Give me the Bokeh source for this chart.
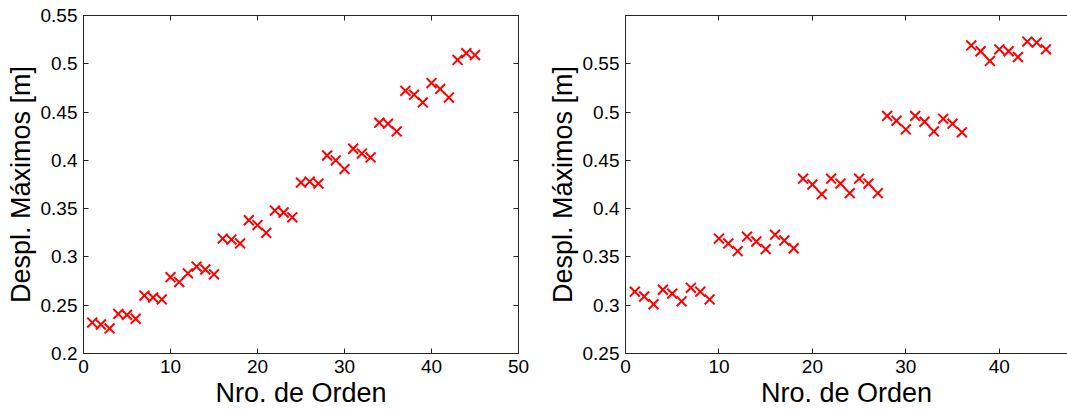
from bokeh.plotting import figure
from bokeh.layouts import row
from bokeh.models import LinearAxis, FixedTicker, NumeralTickFormatter, Range1d, CustomJSTickFormatter
from bokeh.embed import file_html
from bokeh.resources import INLINE

# ---- data ----
orden = list(range(1, 46))
despl_izq = [0.232, 0.230, 0.226, 0.241, 0.240, 0.236, 0.260, 0.258, 0.256,
             0.279, 0.274, 0.283, 0.290, 0.287, 0.282, 0.319, 0.318, 0.314,
             0.338, 0.333, 0.325, 0.348, 0.346, 0.341, 0.377, 0.378, 0.376,
             0.405, 0.400, 0.391, 0.412, 0.407, 0.403, 0.439, 0.438, 0.430,
             0.472, 0.468, 0.460, 0.480, 0.474, 0.465, 0.504, 0.511, 0.509]
despl_der = [0.314, 0.309, 0.301, 0.316, 0.312, 0.304, 0.318, 0.314, 0.306,
             0.369, 0.364, 0.356, 0.371, 0.366, 0.358, 0.373, 0.367, 0.359,
             0.431, 0.425, 0.415, 0.431, 0.426, 0.416, 0.431, 0.426, 0.416,
             0.496, 0.491, 0.482, 0.496, 0.490, 0.480, 0.493, 0.488, 0.479,
             0.569, 0.563, 0.553, 0.565, 0.563, 0.557, 0.573, 0.572, 0.565]
x_ticks_izq = [0, 10, 20, 30, 40, 50]
x_ticks_der = [0, 10, 20, 30, 40]
y_ticks_izq = [0.2, 0.25, 0.3, 0.35, 0.4, 0.45, 0.5, 0.55]
y_ticks_der = [0.25, 0.3, 0.35, 0.4, 0.45, 0.5, 0.55]
x_label = "Nro. de Orden"
y_label = "Despl. Máximos [m]"

FONT = "Liberation Sans"
AX = "#262626"


def style(ax, ticks, show_labels=True):
    ax.ticker = FixedTicker(ticks=ticks)
    ax.major_tick_in = 5
    ax.major_tick_out = 0
    ax.minor_tick_in = 0
    ax.minor_tick_out = 0
    ax.axis_line_color = AX
    ax.major_tick_line_color = AX
    ax.major_label_text_font = FONT
    ax.major_label_text_font_size = "19px"
    ax.major_label_text_color = "black"
    ax.major_label_standoff = 6
    ax.axis_label_text_font = FONT
    ax.axis_label_text_font_size = "27px"
    ax.axis_label_text_font_style = "normal"
    ax.axis_label_text_color = "black"
    ax.axis_label_standoff = 2
    if not show_labels:
        ax.formatter = CustomJSTickFormatter(code="return ''")
        ax.major_label_standoff = 0


def make(xr, yr, xt, yt, vals, width, left, right, top, box):
    p = figure(width=width, height=410, output_backend="svg", toolbar_location=None,
               x_range=Range1d(*xr), y_range=Range1d(*yr),
               min_border_left=left, min_border_right=right,
               min_border_top=top, min_border_bottom=57)
    p.xgrid.visible = False
    p.ygrid.visible = False
    p.background_fill_color = "white"
    p.border_fill_color = "white"
    p.outline_line_color = AX if box else None
    style(p.xaxis[0], xt)
    style(p.yaxis[0], yt)
    p.xaxis[0].axis_label = x_label
    p.yaxis[0].axis_label = y_label
    p.yaxis[0].formatter = NumeralTickFormatter(format="0.[00]")
    top_ax = LinearAxis()
    style(top_ax, xt, show_labels=False)
    p.add_layout(top_ax, "above")
    if box:
        right_ax = LinearAxis()
        style(right_ax, yt, show_labels=False)
        p.add_layout(right_ax, "right")
    p.scatter(orden, vals, marker="x", size=14, line_color="red", line_width=2)
    return p


p1 = make((0, 50), (0.2, 0.55), x_ticks_izq, y_ticks_izq, despl_izq, 530, 83, 12, 15, True)
p2 = make((0, 47.3), (0.25, 0.6), x_ticks_der, y_ticks_der, despl_der, 537, 95, 0, 13, False)

layout = row(p1, p2)
open("out.html", "w").write(file_html(layout, INLINE))
